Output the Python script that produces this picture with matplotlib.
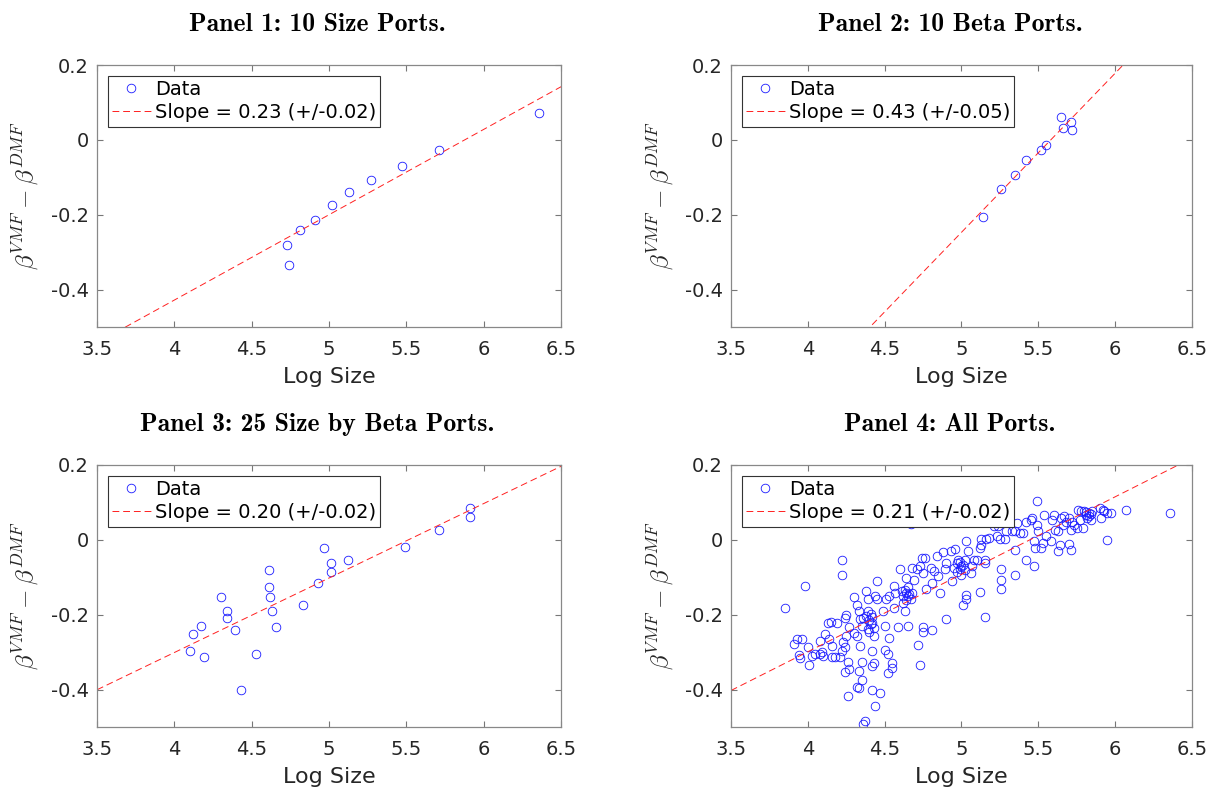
import os
import numpy as np
import matplotlib
matplotlib.use("Agg")
from matplotlib import pyplot as plt
from matplotlib.font_manager import FontProperties

# values
panel1_x = [6.36, 5.71, 5.47, 5.27, 5.13, 5.02, 4.91, 4.81, 4.73, 4.74]
panel1_y = [0.073, -0.028, -0.070, -0.106, -0.139, -0.174, -0.213, -0.242, -0.282, -0.335]

panel2_x = [5.14, 5.26, 5.35, 5.42, 5.52, 5.55, 5.66, 5.65, 5.71, 5.72]
panel2_y = [-0.205, -0.132, -0.093, -0.055, -0.027, -0.013, 0.033, 0.061, 0.048, 0.026]

panel3_x = [5.91, 5.91, 5.71, 5.49, 4.97, 5.01, 5.01, 5.12, 4.93, 4.61, 4.61, 4.62, 4.63,
            4.66, 4.83, 4.30, 4.34, 4.34, 4.39, 4.17, 4.12, 4.10, 4.19, 4.53, 4.43]
panel3_y = [0.084, 0.061, 0.027, -0.019, -0.023, -0.062, -0.086, -0.055, -0.115, -0.080,
            -0.127, -0.153, -0.190, -0.232, -0.174, -0.152, -0.190, -0.210, -0.242, -0.230,
            -0.251, -0.297, -0.313, -0.305, -0.401]

panel4_x = [
    3.85, 3.98, 4.22, 4.22, 5.49, 6.07, 6.36, 5.95, 4.67, 4.36, 4.37, 4.44, 4.26, 4.47,
    4.42, 4.32, 4.33, 4.35, 4.73, 4.72, 5.15, 4.90, 4.81, 4.75, 4.75, 5.01, 5.03, 5.03,
    5.12, 5.26, 5.26, 5.26, 5.35, 5.42, 5.47, 5.35, 5.71, 5.63, 5.70,
    3.91, 3.93, 3.96, 3.94, 3.95, 4.01, 4.00, 4.03, 4.05, 4.08, 4.09, 4.10, 4.08, 4.11,
    4.13, 4.15, 4.19, 4.14, 4.16, 4.16, 4.18, 4.21, 4.22, 4.23, 4.24, 4.25, 4.24, 4.25,
    4.30, 4.32, 4.33, 4.34, 4.35, 4.36, 4.38, 4.38, 4.39, 4.39, 4.41, 4.42, 4.43, 4.44,
    4.45, 4.45, 4.27, 4.30, 4.32, 4.34, 4.26, 4.27, 4.24, 4.33, 4.35, 4.42, 4.43, 4.42,
    4.50, 4.52, 4.55, 4.55, 4.52, 4.53, 4.50, 4.49, 4.51, 4.53, 4.56, 4.56, 4.57, 4.59,
    4.60, 4.61, 4.62, 4.63, 4.64, 4.65, 4.67, 4.68, 4.65, 4.64, 4.69, 4.68, 4.71, 4.73,
    4.75, 4.74, 4.76, 4.77, 4.80, 4.81, 4.82, 4.84, 4.85, 4.86, 4.88, 4.89, 4.90, 4.93,
    4.94, 4.95, 4.96, 4.97, 4.98, 4.99, 5.00, 5.01, 5.02, 5.03, 5.04, 5.06, 5.07, 5.08,
    5.10, 5.12, 5.13, 5.13, 5.15, 5.15, 5.16, 5.18, 5.21, 5.23, 5.24, 5.25, 5.28, 5.29,
    5.33, 5.35, 5.36, 5.38, 5.40, 5.42, 5.45, 5.46, 5.47, 5.48, 5.49, 5.50, 5.52, 5.53,
    5.54, 5.55, 5.58, 5.59, 5.60, 5.61, 5.63, 5.64, 5.65, 5.66, 5.67, 5.68, 5.70, 5.71,
    5.72, 5.73, 5.75, 5.76, 5.77, 5.78, 5.79, 5.80, 5.81, 5.82, 5.83, 5.83, 5.84, 5.85,
    5.90, 5.91, 5.92, 5.93, 5.95, 5.97,
    4.40, 4.41, 4.42, 4.43, 4.40, 4.39, 4.63, 4.64, 4.66, 4.62, 4.65, 4.97, 5.00, 5.02,
    4.99, 5.81, 5.84,
]
panel4_y = [
    -0.181, -0.124, -0.055, -0.093, 0.105, 0.079, 0.073, 0.000, 0.042, -0.493, -0.483,
    -0.445, -0.418, -0.410, -0.401, -0.394, -0.395, -0.375, -0.335, -0.281, -0.205, -0.212,
    -0.241, -0.245, -0.233, -0.174, -0.159, -0.148, -0.139, -0.132, -0.107, -0.079, -0.093,
    -0.055, -0.070, -0.026, -0.028, -0.031, -0.011,
    -0.279, -0.266, -0.266, -0.307, -0.316, -0.333, -0.286, -0.310, -0.305, -0.305, -0.299,
    -0.310, -0.269, -0.251, -0.221, -0.219, -0.223, -0.265, -0.283, -0.314, -0.312, -0.314,
    -0.296, -0.273, -0.285, -0.258, -0.210, -0.201, -0.153, -0.175, -0.190, -0.212, -0.230,
    -0.208, -0.203, -0.137, -0.159, -0.239, -0.199, -0.221, -0.257, -0.150, -0.110, -0.159,
    -0.234, -0.248, -0.257, -0.283, -0.327, -0.345, -0.354, -0.350, -0.327, -0.298, -0.329,
    -0.336, -0.295, -0.305, -0.329, -0.342, -0.357, -0.261, -0.230, -0.190, -0.159, -0.150,
    -0.124, -0.181, -0.141, -0.234, -0.079, -0.137, -0.150, -0.190, -0.141, -0.150, -0.159,
    -0.141, -0.230, -0.101, -0.106, -0.075, -0.079, -0.070, -0.088, -0.048, -0.048, -0.132,
    -0.075, -0.115, -0.084, -0.044, -0.097, -0.141, -0.033, -0.079, -0.062, -0.030, -0.110,
    -0.075, -0.024, -0.062, -0.053, -0.079, -0.093, -0.066, -0.053, -0.004, -0.030, -0.088,
    -0.070, -0.053, -0.053, -0.022, 0.001, -0.013, -0.062, -0.053, 0.001, 0.005, 0.036,
    0.009, 0.036, 0.001, 0.001, 0.023, 0.023, 0.023, 0.045, 0.018, 0.018, 0.049, 0.054,
    0.058, -0.004, -0.022, 0.040, 0.023, -0.022, -0.008, 0.067, 0.009, -0.004, 0.054,
    0.067, 0.027, 0.023, -0.013, 0.058, 0.040, 0.063, 0.049, 0.058, 0.027, 0.049, 0.040,
    0.032, 0.079, 0.054, 0.076, 0.032, 0.076, 0.067, 0.058, 0.071, 0.063, 0.054, 0.076,
    0.085, 0.058, 0.080, 0.076, 0.071, 0.071,
    -0.215, -0.225, -0.205, -0.235, -0.245, -0.190, -0.135, -0.160, -0.145, -0.170, -0.125,
    -0.085, -0.070, -0.080, -0.060, 0.075, 0.068,
]

titles = ["Panel 1: 10 Size Ports.", "Panel 2: 10 Beta Ports.",
          "Panel 3: 25 Size by Beta Ports.", "Panel 4: All Ports."]
fit_slope = [0.228, 0.425, 0.199, 0.207]
fit_at_5 = [-0.200, -0.247, -0.102, -0.092]
slope_labels = ["Slope = 0.23 (+/-0.02)", "Slope = 0.43 (+/-0.05)",
                "Slope = 0.20 (+/-0.02)", "Slope = 0.21 (+/-0.02)"]

xticks = [3.5, 4, 4.5, 5, 5.5, 6, 6.5]
xticklabels = ["3.5", "4", "4.5", "5", "5.5", "6", "6.5"]
yticks = [-0.4, -0.2, 0, 0.2]
yticklabels = ["-0.4", "-0.2", "0", "0.2"]

plt.rcParams["mathtext.fontset"] = "cm"
title_font = FontProperties(fname=os.path.join(matplotlib.get_data_path(), "fonts", "ttf", "cmb10.ttf"),
                            size=18.5)

fig = plt.figure(figsize=(12.11, 7.88), dpi=100)
positions = [
    [0.0801, 0.585, 0.3832, 0.3325],
    [0.6036, 0.585, 0.3807, 0.3325],
    [0.0801, 0.0774, 0.3832, 0.3325],
    [0.6036, 0.0774, 0.3807, 0.3325],
]
data = [(panel1_x, panel1_y), (panel2_x, panel2_y), (panel3_x, panel3_y), (panel4_x, panel4_y)]

for i, (px, py) in enumerate(data):
    ax = fig.add_axes(positions[i])
    ax.plot(px, py, "o", linestyle="none", markerfacecolor="none", markeredgecolor="#1a1aff",
            markersize=6.2, markeredgewidth=0.6, label="Data")
    xs = np.array([3.5, 6.5])
    ax.plot(xs, fit_at_5[i] + fit_slope[i] * (xs - 5), color="#ff2020", linewidth=0.7,
            linestyle=(0, (7, 4)), label=slope_labels[i])

    ax.set_xlim(3.5, 6.5)
    ax.set_ylim(-0.5, 0.2)
    ax.set_xticks(xticks)
    ax.set_xticklabels(xticklabels)
    ax.set_yticks(yticks)
    ax.set_yticklabels(yticklabels)
    ax.tick_params(direction="in", length=4, width=0.8, color="#777777", labelsize=14,
                   labelcolor="#262626", top=True, right=True)
    ax.tick_params(axis="x", pad=9)
    ax.tick_params(axis="y", pad=6)
    for s in ax.spines.values():
        s.set_color("#888888")
        s.set_linewidth(0.9)

    ax.set_xlabel("Log Size", fontsize=16, color="#262626", labelpad=6)
    ax.set_ylabel(r"$\beta^{VMF} - \beta^{DMF}$", fontsize=18, color="#262626")
    ax.yaxis.set_label_coords(-0.12, 0.5)
    ax.text(0.475, 1.13, titles[i], transform=ax.transAxes, ha="center", va="baseline",
            fontproperties=title_font)

    leg = ax.legend(loc="upper left", fontsize=14, frameon=True, fancybox=False, framealpha=1,
                    edgecolor="#333333", numpoints=1, handlelength=2.0, handletextpad=0.2,
                    borderpad=0.22, labelspacing=0.22, borderaxespad=0.55)
    leg.get_frame().set_linewidth(0.8)

fig.savefig("out.png", dpi=100)
